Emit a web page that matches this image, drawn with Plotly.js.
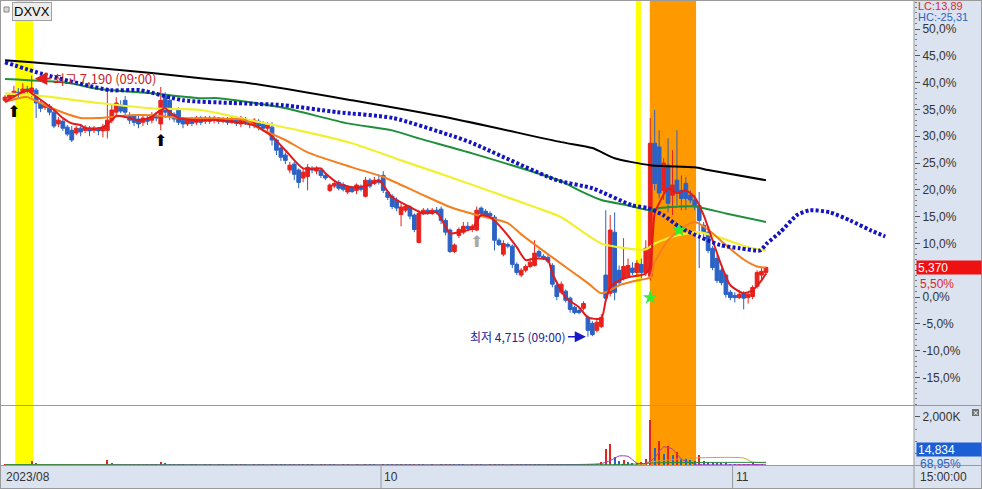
<!DOCTYPE html>
<html><head><meta charset="utf-8">
<script src="https://cdn.plot.ly/plotly-3.0.1.min.js"></script>
<style>html,body{margin:0;padding:0;background:#dbe3f0;}#chart{width:982px;height:489px;}</style>
</head><body><div id="chart"></div>
<script>
const BASE_PRICE = 5090;
const TICKER = 'DXVX';
const openPct = [36.7,37.1,37.5,38.2,38.0,38.8,38.2,38.6,36.2,35.4,35.6,34.5,32.3,32.8,31.7,31.1,30.6,31.5,31.1,31.5,31.1,31.5,31.0,31.1,33.0,34.5,35.8,36.7,33.9,33.8,33.2,32.6,33.2,33.0,33.8,32.3,37.5,36.7,34.1,34.9,33.0,32.3,33.2,32.6,33.4,32.8,33.4,33.0,33.4,32.8,33.2,32.6,33.0,32.3,33.2,32.8,32.1,32.8,32.3,31.5,31.7,29.3,27.8,26.5,23.7,24.8,23.7,22.2,22.5,24.0,23.5,23.7,22.7,19.9,20.7,21.4,21.0,19.6,20.3,19.9,20.7,18.8,21.8,21.2,21.8,22.7,19.6,18.8,18.1,15.4,16.2,16.8,15.3,10.2,15.6,16.2,15.6,16.2,16.4,14.3,12.5,8.5,11.5,12.1,13.2,12.6,12.5,16.6,16.0,15.6,14.9,10.6,8.0,9.8,9.5,6.1,4.1,5.0,5.7,5.9,8.5,7.6,7.4,5.9,2.2,0.9,1.1,-0.2,-1.9,-2.5,-2.1,-3.8,-4.9,-6.2,-5.5,4.1,0.7,12.1,5.0,3.5,3.9,5.4,4.6,6.1,4.6,3.9,28.7,28.0,19.9,24.6,19.0,21.8,19.9,21.2,19.0,18.1,17.1,13.4,12.1,9.1,7.2,5.0,4.1,0.9,0.3,-0.1,0.7,-0.1,0.1,2.0,4.1,4.6];
const highPct = [37.7,38.0,39.4,39.0,39.9,39.4,41.3,39.0,36.7,36.2,36.0,34.9,33.6,33.2,32.1,31.9,31.9,32.1,32.1,31.9,31.9,31.7,32.3,38.8,36.0,37.3,36.7,37.5,34.5,34.1,33.8,33.9,33.8,34.5,34.5,39.2,38.2,37.5,34.5,35.4,33.4,33.4,33.6,33.8,33.8,33.8,33.8,33.8,33.6,33.6,33.6,33.6,33.4,33.8,33.6,33.2,33.4,33.2,32.8,32.6,32.6,29.6,28.1,27.0,25.2,25.2,24.0,24.0,24.8,24.4,24.4,24.0,23.1,21.2,21.8,21.8,21.4,20.9,20.7,21.2,21.0,22.4,22.2,22.4,22.9,23.5,19.9,19.2,18.6,17.5,17.3,17.1,15.6,16.2,16.6,16.6,16.6,16.8,16.9,14.7,12.8,10.0,13.0,14.0,14.0,13.6,16.9,16.9,16.4,16.0,15.3,11.0,10.6,10.2,9.8,6.5,5.4,6.1,7.2,10.6,8.9,8.0,7.8,6.3,2.6,2.9,1.4,0.1,-1.6,-2.1,-0.8,-3.4,-4.5,-4.2,-3.2,16.2,15.3,15.8,5.9,11.0,7.2,6.5,6.9,7.2,10.6,33.4,34.9,31.1,25.9,29.6,27.4,31.1,22.7,22.4,19.9,19.0,19.6,14.0,12.5,9.5,7.8,5.4,4.4,1.3,0.9,1.3,1.1,0.9,2.2,5.0,5.4,5.7];
const lowPct = [36.4,36.7,37.1,37.3,37.7,37.9,37.3,33.4,34.5,34.9,33.9,31.5,31.7,31.0,30.0,28.9,30.2,30.0,30.6,30.0,30.6,30.2,29.8,29.6,32.4,33.9,34.3,33.4,32.3,31.9,31.5,31.9,32.1,32.4,32.8,31.1,33.4,33.0,32.6,32.1,31.5,31.9,31.9,32.1,32.1,32.3,32.3,32.4,32.3,32.4,32.1,32.3,31.9,31.7,32.1,31.5,31.5,31.1,31.0,31.0,28.3,26.5,25.4,24.8,23.1,21.8,20.3,21.4,19.9,23.1,22.9,22.2,21.8,19.6,20.3,19.9,19.7,19.2,19.4,19.2,19.7,18.6,20.3,20.9,21.0,19.4,18.1,16.4,16.0,13.2,15.8,14.5,12.1,10.0,15.3,15.3,15.3,15.4,13.6,11.5,8.2,8.2,11.0,11.7,12.3,12.1,12.3,15.3,14.9,14.7,8.7,9.5,7.6,9.1,5.4,4.1,3.7,4.6,5.4,5.7,7.2,6.9,6.3,1.8,-0.6,0.5,-1.0,-2.9,-3.2,-3.2,-2.5,-7.4,-7.3,-6.6,-5.8,-1.0,0.1,-0.6,2.2,3.1,3.5,4.1,4.1,3.5,3.9,3.1,19.9,18.4,18.1,15.8,15.3,17.1,16.2,16.2,17.5,16.2,5.4,11.3,8.2,5.0,2.6,2.2,-0.1,-0.6,-1.0,-0.4,-2.3,-1.2,-0.4,1.6,3.1,4.1];
const closePct = [37.3,37.7,38.4,37.9,38.8,38.4,39.0,36.2,35.2,35.8,34.5,31.9,33.0,31.5,30.4,29.3,31.5,30.8,31.7,31.0,31.5,31.0,31.7,33.0,34.9,36.2,34.7,34.5,33.0,32.6,32.3,33.4,32.8,33.9,33.4,36.7,34.5,33.8,33.2,32.6,32.3,33.0,32.4,33.4,32.6,33.4,32.8,33.4,32.8,33.2,32.6,33.2,32.4,33.4,32.6,32.3,33.0,31.9,31.5,32.1,29.3,27.4,26.1,25.5,24.6,22.9,21.4,23.3,24.2,23.7,24.0,22.7,22.2,20.9,21.2,20.3,20.1,20.5,19.7,20.9,20.1,21.8,20.7,21.8,21.4,19.9,18.6,16.9,16.6,16.8,16.9,15.1,12.6,15.6,16.2,15.6,16.2,15.8,14.3,12.1,8.5,9.7,12.6,13.2,12.8,13.2,16.2,15.6,15.3,15.1,10.6,9.8,10.0,9.5,6.1,4.6,5.0,5.7,6.5,8.2,7.6,7.2,6.7,2.4,0.1,2.4,-0.6,-2.3,-2.9,-2.9,-1.2,-6.2,-7.0,-4.7,-3.8,-0.2,12.5,0.9,2.7,5.7,5.9,4.6,6.3,4.6,9.1,28.7,21.2,19.4,25.0,17.5,20.9,19.4,18.4,18.4,18.1,17.1,14.3,12.1,8.7,5.5,3.1,2.7,0.5,-0.1,-0.1,0.5,-0.2,0.5,1.8,4.6,4.8,5.5];
const volumeK = [30,45,60,40,55,35,150,80,50,40,35,60,45,30,40,55,35,30,40,25,30,35,40,200,90,60,45,40,35,30,25,30,35,30,40,110,70,45,30,35,25,20,30,25,20,25,30,20,25,30,20,25,30,40,25,20,25,30,25,20,50,45,35,30,40,35,45,30,55,25,20,25,30,35,25,20,25,30,20,25,20,45,30,25,20,35,30,40,30,45,25,30,40,60,25,20,25,20,30,35,45,40,30,25,20,25,55,30,20,25,40,25,45,20,35,40,30,25,30,50,30,20,25,40,45,35,30,40,30,25,35,60,55,50,110,670,880,350,150,210,120,100,90,110,250,1880,700,1000,450,790,400,540,300,250,200,180,420,150,120,110,100,90,80,60,50,50,60,50,70,30,21.514,14.834];

// moving-average lines: [candle index, %]
const maRed = [[0,36.4],[5,38.6],[6,38.0],[9,36.2],[11,34.9],[13,33.4],[15,32.4],[17,32.1],[18,31.5],[21,31.5],[22,31.7],[24,33.0],[25,33.8],[27,33.6],[30,33.0],[33,33.6],[34,34.3],[36,35.2],[37,34.5],[39,33.4],[43,33.0],[48,33.0],[52,32.6],[54,32.4],[57,31.7],[58,31.1],[60,30.0],[63,27.4],[67,24.0],[71,24.0],[72,23.1],[75,21.2],[78,20.5],[81,20.7],[84,21.8],[87,18.6],[91,16.8],[94,15.6],[97,15.8],[100,11.9],[102,12.1],[105,12.8],[107,15.3],[109,14.9],[112,12.5],[115,9.3],[117,6.9],[119,7.2],[122,6.9],[123,4.4],[126,-0.1],[129,-1.9],[131,-3.8],[134,-4.0],[135,-0.6],[136,1.8],[138,3.1],[140,3.7],[143,4.1],[144,4.4],[145,5.9],[146,15.6],[147,17.5],[149,20.3],[151,19.4],[153,19.9],[155,18.6],[157,15.3],[159,10.6],[161,5.9],[163,2.2],[166,0.7],[168,1.3],[170,3.1],[171,4.4]];
const maOrange = [[0,36.4],[3,37.1],[5,37.3],[10,35.4],[17,33.4],[21,33.4],[28,33.9],[33,33.9],[40,33.4],[54,33.0],[57,31.5],[63,29.3],[68,27.0],[78,24.2],[85,22.4],[93,19.4],[100,16.8],[106,15.3],[113,13.8],[116,11.7],[123,7.4],[131,2.6],[134,0.7],[136,1.3],[138,2.2],[142,3.1],[145,3.7],[146,6.5],[149,10.6],[152,12.8],[155,14.0],[158,12.6],[162,9.7],[166,7.0],[169,5.7],[171,5.5]];
const maYellow = [[0,38.0],[6,37.7],[21,36.2],[33,35.2],[44,34.9],[55,33.0],[66,31.1],[78,28.7],[89,25.5],[100,22.4],[119,16.8],[125,14.9],[134,10.0],[144,8.9],[146,10.0],[151,11.5],[156,12.1],[161,11.0],[167,9.3],[171,8.7]];
const maGreen = [[0,40.7],[14,40.0],[21,38.8],[33,38.0],[44,37.1],[48,37.1],[62,35.4],[77,32.4],[87,31.1],[93,29.6],[105,26.8],[125,21.6],[129,19.9],[134,18.1],[140,17.1],[145,16.2],[147,16.6],[155,16.9],[162,15.6],[171,14.0]];
const maBlack = [[0,44.2],[6,43.8],[33,41.8],[44,40.8],[55,39.9],[78,36.7],[100,33.4],[125,28.9],[132,27.8],[137,25.9],[145,24.6],[155,24.2],[158,23.7],[171,21.8]];
const maBlueShifted = [[0,43.8],[8.5,41.6],[23.6,38.6],[30.3,38.6],[40,36.7],[51.2,36.2],[62.5,35.8],[74.6,34.5],[87.2,33.4],[100,30.2],[104.5,28.9],[124,21.8],[132,20.3],[141,17.1],[144.5,16.6],[147.9,15.3],[151.7,13.0],[156.2,11.2],[160.7,9.7],[165.2,9.1],[169.7,8.7],[171.2,10.0],[174.2,12.1],[178,15.3],[180.9,16.2],[185.4,15.8],[189.9,14.3],[194.4,12.5],[197.8,11.3]];
const volMaPurple = [[0,20],[130,25],[134,60],[136,180],[138,375],[140,360],[142,80],[144,60],[146,300],[148,750],[150,660],[152,250],[155,40],[171,30]];
const volMaTan = [[0,20],[144,30],[145,120],[155,290],[166,290],[168,120],[171,110]];
const volMaGreen = [[0,15],[140,25],[146,90],[171,110]];

const buySignals = [[2,34.3],[35,28.9]];
const greySignals = [[106,10.0]];
const starSignals = [[145,-0.1],[151.5,12.5]];

const monthStartIdx = [0,85,164];
const monthLabels = ['2023/08','10','11'];
const timeLabel = '15:00:00';
const yTicks = [-15,-10,-5,0,5,10,15,20,25,30,35,40,45,50];
const yTicksCovered = [5]; // label hidden under the current-price box

const RED='#e8221c', BLUE='#2b62c6';
const FONT='"Liberation Sans","Noto Sans CJK KR",sans-serif';
const KFONT='"Noto Sans CJK KR","Liberation Sans",sans-serif';

const N = closePct.length;
const idx = Array.from({length:N},(_,i)=>i);
const toPrice = p => Math.round(BASE_PRICE*(1+p/100)/5)*5;
const fmtInt = v => v.toLocaleString('en-US');
const fmtPct = (v,d) => v.toFixed(d).replace('.',',') + '%';
const col = (arr,k) => arr.map(r=>r[k]);

let hiIdx=0, loIdx=0;
highPct.forEach((v,i)=>{ if(v>highPct[hiIdx]) hiIdx=i; });
lowPct.forEach((v,i)=>{ if(v<lowPct[loIdx]) loIdx=i; });
const hiPrice = toPrice(highPct[hiIdx]);
const loPrice = toPrice(lowPct[loIdx]);
const lastPct = closePct[N-1];
const lastPrice = toPrice(lastPct);
const lc = (lastPrice/loPrice-1)*100;
const hc = (lastPrice/hiPrice-1)*100;
const lastVol = volumeK[N-1];
const volRatio = lastVol/volumeK[N-2]*100;

const volColors = volumeK.map((v,i)=> (i===0 || v>=volumeK[i-1]) ? RED : BLUE);

function line(arr, color, width, yaxis, dash){
  return {type:'scatter', mode:'lines', x:col(arr,0), y:col(arr,1), yaxis:yaxis||'y',
    line:{color:color, width:width, shape:'spline', smoothing:0.6, dash:dash||'solid'},
    hoverinfo:'skip', showlegend:false};
}

const traces = [
  {type:'candlestick', x:idx, open:openPct, high:highPct, low:lowPct, close:closePct,
   increasing:{line:{color:RED,width:1}, fillcolor:RED},
   decreasing:{line:{color:BLUE,width:1}, fillcolor:BLUE},
   whiskerwidth:0, hoverinfo:'skip', showlegend:false, yaxis:'y'},
  line(maBlack,'#000000',2),
  line(maGreen,'#1f8f3c',2),
  line(maYellow,'#f0f030',2.2),
  line(maOrange,'#f47f1f',2),
  line(maRed,'#e41a1a',2),
  line(maBlueShifted,'#1414c0',4,'y','3px,2.2px'),
  {type:'scatter', mode:'text', x:col(buySignals,0), y:col(buySignals,1), text:buySignals.map(()=>'⬆'),
   textfont:{size:16,color:'#000',family:'DejaVu Sans'}, hoverinfo:'skip', showlegend:false},
  {type:'scatter', mode:'text', x:col(greySignals,0), y:col(greySignals,1), text:greySignals.map(()=>'⬆'),
   textfont:{size:16,color:'#a8a8a8',family:'DejaVu Sans'}, hoverinfo:'skip', showlegend:false},
  {type:'scatter', mode:'markers', x:col(starSignals,0), y:col(starSignals,1),
   marker:{symbol:'star',size:11,color:'#30ee30'}, hoverinfo:'skip', showlegend:false},
  {type:'bar', x:idx, y:volumeK, yaxis:'y2', width:0.45, marker:{color:volColors,line:{width:0}},
   hoverinfo:'skip', showlegend:false},
  line(volMaPurple,'#a03cc0',1,'y2'),
  line(volMaTan,'#d0a030',1,'y2'),
  line(volMaGreen,'#2a8a40',1,'y2')
];

const PW=914, PH=465; // plot area size in px
const px = v => v/PW;
const py = v => (PH - v)/PH;

const shapes = [
  {type:'rect', xref:'x', yref:'paper', x0:2.3, x1:6.3, y0:0, y1:1, fillcolor:'#ffff00', line:{width:0}, layer:'below'},
  {type:'rect', xref:'x', yref:'paper', x0:141.8, x1:142.9, y0:0, y1:1, fillcolor:'#ffff00', line:{width:0}, layer:'below'},
  {type:'rect', xref:'x', yref:'paper', x0:144.9, x1:155.3, y0:0, y1:1, fillcolor:'#ff9900', line:{width:0}, layer:'below'},
  {type:'line', xref:'paper', yref:'paper', x0:0, x1:px(982), y0:py(0.5), y1:py(0.5), line:{color:'#9a9a9a',width:1}},
  {type:'line', xref:'paper', yref:'paper', x0:0, x1:px(982), y0:py(405.5), y1:py(405.5), line:{color:'#9a9a9a',width:1}},
  {type:'line', xref:'paper', yref:'paper', x0:0, x1:px(982), y0:py(465.5), y1:py(465.5), line:{color:'#9a9a9a',width:1}},
  {type:'line', xref:'paper', yref:'paper', x0:0, x1:px(982), y0:py(488.5), y1:py(488.5), line:{color:'#9a9a9a',width:1}},
  {type:'line', xref:'paper', yref:'paper', x0:px(0.5), x1:px(0.5), y0:py(489), y1:py(0), line:{color:'#9a9a9a',width:1}},
  {type:'line', xref:'paper', yref:'paper', x0:px(914), x1:px(914), y0:py(489), y1:py(0), line:{color:'#9a9a9a',width:1}},
  {type:'line', xref:'paper', yref:'paper', x0:px(981.5), x1:px(981.5), y0:py(489), y1:py(0), line:{color:'#9a9a9a',width:1}},
  {type:'rect', xref:'paper', yref:'paper', x0:px(4), x1:px(9), y0:py(12), y1:py(7), fillcolor:'#d8d8d8', line:{color:'#888',width:1}},
  {type:'rect', xref:'paper', yref:'paper', x0:px(972), x1:px(979), y0:py(416), y1:py(409), fillcolor:'#707070', line:{width:0}}
];
monthStartIdx.forEach(i=>{
  if(i>0) shapes.push({type:'line', xref:'x', yref:'paper', x0:i-0.5, x1:i-0.5, y0:py(489), y1:py(466), line:{color:'#9a9a9a',width:1}});
});

const annotations = [
  {xref:'paper', yref:'paper', x:px(12), y:py(2), xanchor:'left', yanchor:'top', text:TICKER, showarrow:false,
   font:{family:FONT,size:13,color:'#000'}, bgcolor:'#ececec', bordercolor:'#a0a0a0', borderwidth:1, borderpad:1},
  {xref:'paper', yref:'paper', x:px(916), y:py(6), xanchor:'left', yanchor:'middle', showarrow:false,
   text:'LC:'+lc.toFixed(2).replace('.',','), font:{family:FONT,size:11,color:'#e02828'}},
  {xref:'paper', yref:'paper', x:px(916), y:py(17.5), xanchor:'left', yanchor:'middle', showarrow:false,
   text:'HC:'+hc.toFixed(2).replace('.',','), font:{family:FONT,size:11,color:'#2f62c0'}},
  {xref:'paper', yref:'y', x:px(916), y:lastPct, xanchor:'left', yanchor:'middle', showarrow:false,
   text:fmtInt(lastPrice), width:62, height:11, align:'left', bgcolor:'#ee1111', borderpad:1,
   font:{family:FONT,size:12,color:'#ffffff'}},
  {xref:'paper', yref:'y', x:px(918), y:lastPct, yshift:-16, xanchor:'left', yanchor:'middle', showarrow:false,
   text:fmtPct(lastPct,2), font:{family:FONT,size:12,color:'#e02828'}},
  {xref:'paper', yref:'paper', x:px(916), y:py(449), xanchor:'left', yanchor:'middle', showarrow:false,
   text:fmtInt(Math.round(lastVol*1000)), width:62, height:11, align:'left', bgcolor:'#1c5fd4', borderpad:1,
   font:{family:FONT,size:12,color:'#ffffff'}},
  {xref:'paper', yref:'paper', x:px(918), y:py(464), xanchor:'left', yanchor:'middle', showarrow:false,
   text:fmtPct(volRatio,2), font:{family:FONT,size:12,color:'#2f62c0'}},
  {xref:'paper', yref:'paper', x:px(975.5), y:py(412.5), xanchor:'center', yanchor:'middle', showarrow:false,
   text:'×', font:{family:FONT,size:9,color:'#ffffff'}},
  {xref:'paper', yref:'paper', x:px(918), y:py(477), xanchor:'left', yanchor:'middle', showarrow:false,
   text:timeLabel, font:{family:FONT,size:12,color:'#333'}},
  {xref:'x', yref:'y', x:hiIdx, y:highPct[hiIdx], xshift:3, yshift:-3, showarrow:true, ax:16, ay:0,
   xanchor:'left', text:'최고 '+fmtInt(hiPrice)+' (09:00)', font:{family:KFONT,size:13,color:'#c81e1e'},
   arrowcolor:'#e02020', arrowhead:2, arrowsize:1.4, arrowwidth:1.8},
  {xref:'x', yref:'y', x:loIdx, y:lowPct[loIdx], xshift:-2, yshift:0, showarrow:true, ax:-18, ay:0,
   xanchor:'right', text:'최저 '+fmtInt(loPrice)+' (09:00)', font:{family:KFONT,size:12,color:'#23239a'},
   arrowcolor:'#1818c8', arrowhead:2, arrowsize:1.4, arrowwidth:1.6}
];
monthStartIdx.forEach((i,k)=>{
  annotations.push({xref:'x', yref:'paper', x:i-0.5, xshift:1, y:py(477), xanchor:'left', yanchor:'middle',
    showarrow:false, text:monthLabels[k], font:{family:FONT,size:12,color:'#333'}});
});

const xMin = (0-5)/4.45, xMax = (914-5)/4.45;
const yTop = (296.7-0)/5.354, yBot = (296.7-405)/5.354;

const layout = {
  width:982, height:489, margin:{l:0,r:68,t:0,b:24}, paper_bgcolor:'#dbe3f0', plot_bgcolor:'#ffffff',
  showlegend:false, font:{family:FONT,size:12,color:'#333'}, bargap:0, boxgap:0.12, boxgroupgap:0.05,
  xaxis:{range:[xMin,xMax], showticklabels:false, ticks:'', showgrid:false, zeroline:false, showline:false,
         rangeslider:{visible:false}, fixedrange:true},
  yaxis:{domain:[59.5/465,1], range:[yBot,yTop], side:'right', anchor:'x', tickmode:'array', tickvals:yTicks,
         ticktext:yTicks.map(v=> yTicksCovered.includes(v) ? '' : fmtPct(v,1)), ticks:'outside', ticklen:5, tickcolor:'#555', tickwidth:1,
         tickfont:{family:FONT,size:12,color:'#333'}, showgrid:false, zeroline:false, showline:false,
         minor:{tickmode:'linear', tick0:0, dtick:1, ticks:'outside', ticklen:2, tickcolor:'#777'}, fixedrange:true},
  yaxis2:{domain:[0,59/465], range:[0,2458], side:'right', anchor:'x', tickmode:'array', tickvals:[2000],
          ticktext:['2,000K'], ticks:'outside', ticklen:5, tickcolor:'#555', tickfont:{family:FONT,size:12,color:'#333'},
          showgrid:false, zeroline:false, showline:false,
          minor:{tickmode:'linear', tick0:0, dtick:500, ticks:'outside', ticklen:2, tickcolor:'#777'}, fixedrange:true},
  shapes:shapes, annotations:annotations
};

Plotly.newPlot('chart', traces, layout, {displayModeBar:false, staticPlot:true});
</script></body></html>
